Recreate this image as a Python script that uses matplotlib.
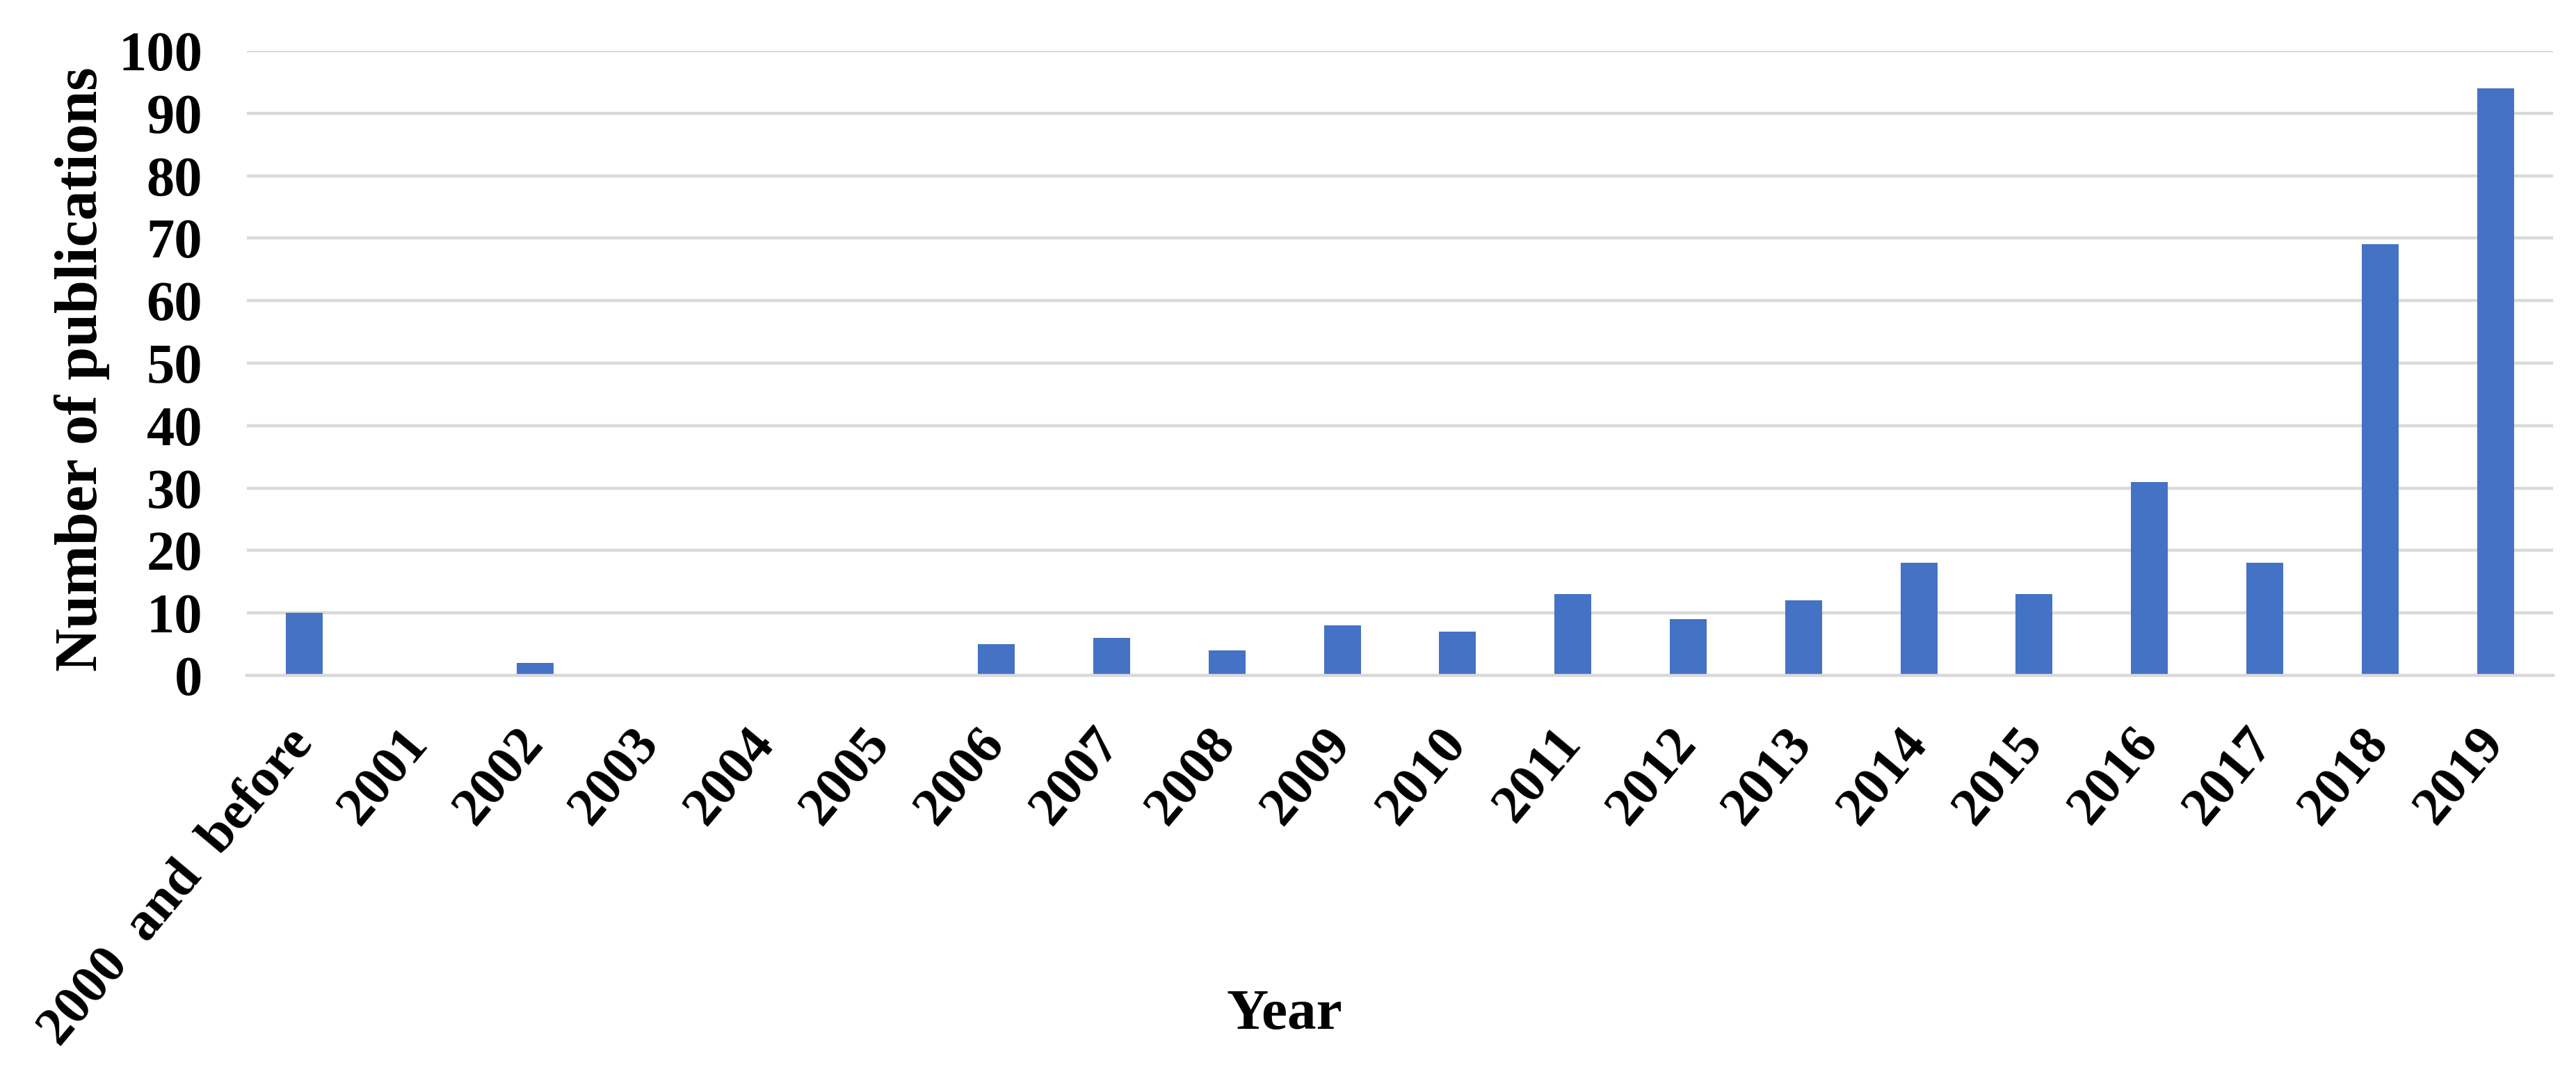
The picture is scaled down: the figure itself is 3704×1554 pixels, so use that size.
import matplotlib
matplotlib.use("Agg")
import matplotlib.pyplot as plt
import numpy as np

categories = ["2000  and  before", "2001", "2002", "2003", "2004", "2005", "2006",
              "2007", "2008", "2009", "2010", "2011", "2012", "2013", "2014",
              "2015", "2016", "2017", "2018", "2019"]
publications = [10, 0, 2, 0, 0, 0, 5, 6, 4, 8, 7, 13, 9, 12, 18, 13, 31, 18, 69, 94]
y_ticks = [0, 10, 20, 30, 40, 50, 60, 70, 80, 90, 100]

plt.rcParams['font.family'] = ['Liberation Serif', 'DejaVu Serif']
plt.rcParams['font.weight'] = 'bold'

W, H, DPI = 3705, 1554, 100
fig = plt.figure(figsize=(W / DPI, H / DPI), dpi=DPI)
ax_left, ax_right, ax_top, ax_bottom = 355, 3671, 73, 971
ax = fig.add_axes([ax_left / W, 1 - ax_bottom / H,
                   (ax_right - ax_left) / W, (ax_bottom - ax_top) / H])

grid_color = "#d9d9d9"
x = np.arange(len(categories))
ax.bar(x, publications, width=0.32, color="#4472C4", zorder=2)

ax.set_xlim(-0.5, len(categories) - 0.5)
ax.set_ylim(0, 100)
ax.set_yticks(y_ticks)
ax.set_yticklabels([str(v) for v in y_ticks])
ax.set_xticks(x)
ax.set_xticklabels(categories, rotation=50, ha='right', va='center',
                   rotation_mode='anchor')

ax.yaxis.grid(True, color=grid_color, linewidth=3.2, zorder=0)
ax.set_axisbelow(True)
for s in ['top', 'right', 'left']:
    ax.spines[s].set_visible(False)
ax.spines['bottom'].set_color(grid_color)
ax.spines['bottom'].set_linewidth(3.2)
ax.spines['bottom'].set_zorder(3)

ax.tick_params(axis='both', length=0)
ax.tick_params(axis='y', pad=46, labelsize=58)
ax.tick_params(axis='x', pad=62, labelsize=56)
for lbl in ax.get_yticklabels() + ax.get_xticklabels():
    lbl.set_fontweight('bold')

ax.set_ylabel("Number of publications", fontsize=62, fontweight='bold')
ax.yaxis.set_label_coords((158 - ax_left) / (ax_right - ax_left), 0.49)
fig.text(1847 / W, 1 - 1460 / H, "Year", fontsize=60, fontweight='bold',
         ha='center', va='center')

fig.savefig("out.png", dpi=DPI, facecolor='white')
